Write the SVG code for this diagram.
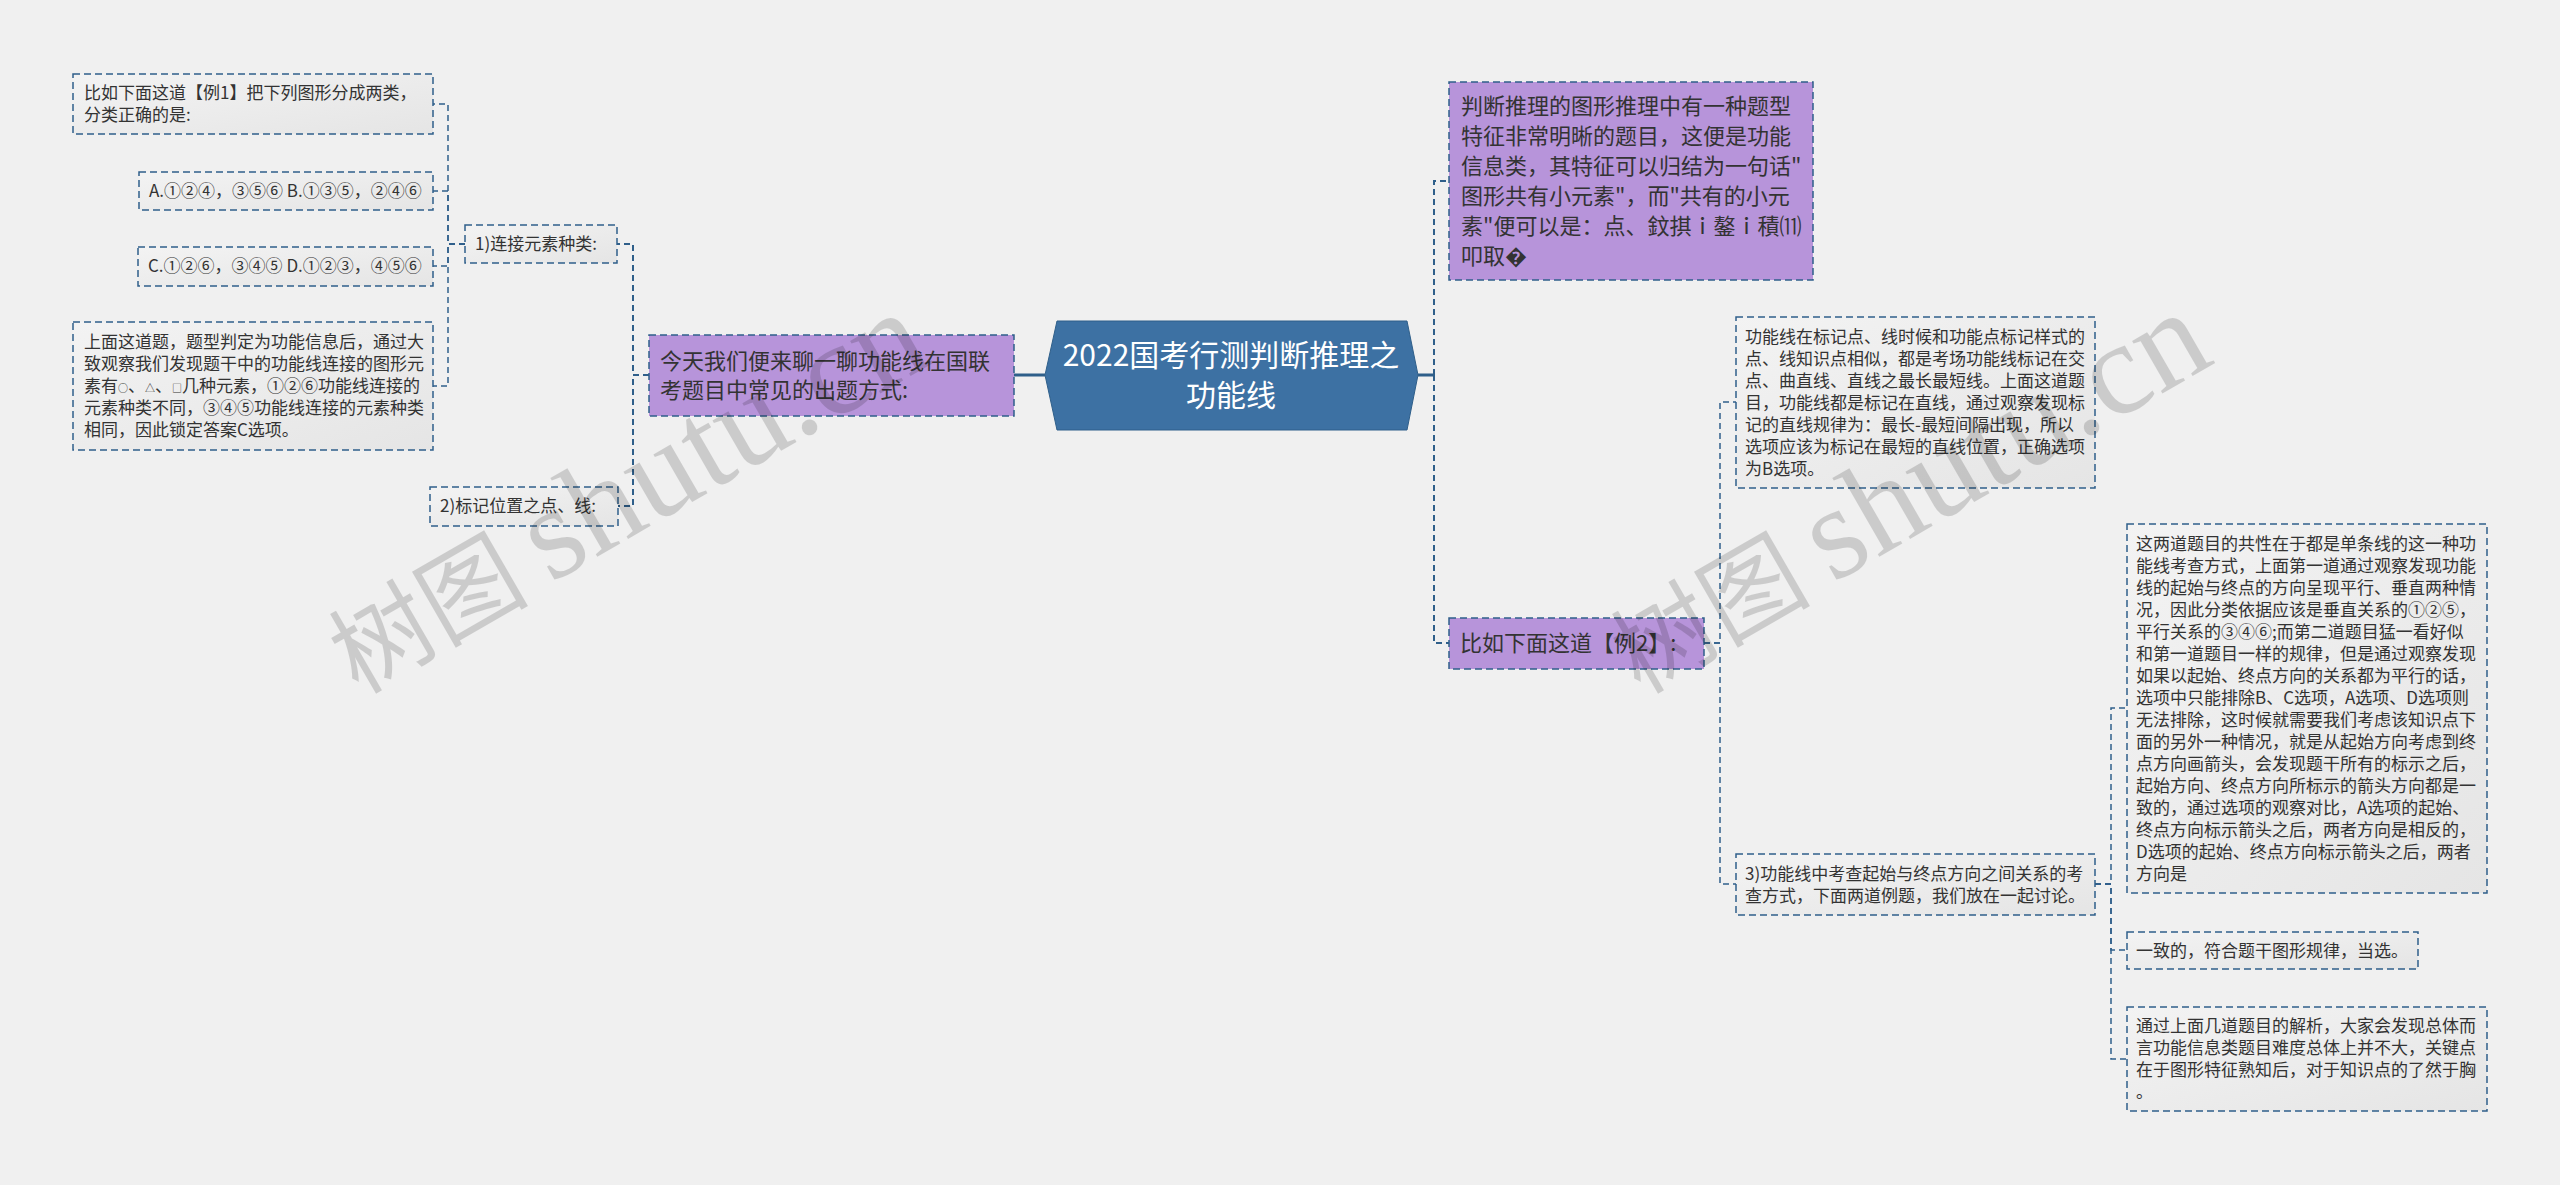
<svg xmlns="http://www.w3.org/2000/svg" width="2560" height="1185" viewBox="0 0 2560 1185">
<defs>
<linearGradient id="gbox" x1="0" y1="0" x2="1" y2="1">
<stop offset="0" stop-color="#f3f3f3"/>
<stop offset="1" stop-color="#e5e5e5"/>
</linearGradient>
<style>
.bg{fill:#f0f0f0}
.box{fill:url(#gbox);stroke:#2f5f8a;stroke-width:1.5;stroke-dasharray:7 4}
.pbox{fill:#b794da;stroke:#2f5f8a;stroke-width:1.5;stroke-dasharray:7 4}
.hex{fill:#3d71a3;stroke:#2f5f8a;stroke-width:1}
.t{font-family:"Noto Sans CJK SC","Noto Sans",sans-serif;fill:#333333}
.s{font-size:17px}
.m{font-size:22px}
.c{font-size:30px;fill:#ffffff;text-anchor:middle}
.cm{fill:none;stroke:#2f5f8a;stroke-width:2;stroke-dasharray:6 4}
.cs{fill:none;stroke:#2f5f8a;stroke-width:1.5;stroke-dasharray:6 4}
.cx{fill:none;stroke:#2f5f8a;stroke-width:3}
.wm{font-family:"Noto Sans CJK SC",serif;font-size:100px;fill:#000000;opacity:0.15}
.wl{font-family:"Liberation Serif",serif;font-size:132px}
</style>
</defs>
<rect class="bg" x="0" y="0" width="2560" height="1185"/>

<g id="connectors">
<path class="cx" d="M1045,375 H1014"/>
<path class="cx" d="M1418,375 H1434"/>
<path class="cm" d="M649,375 H633 V244 H617"/>
<path class="cm" d="M649,375 H633 V506 H618"/>
<path class="cs" d="M465,244 H448 V104 H433"/>
<path class="cs" d="M465,244 H448 V191 H433"/>
<path class="cs" d="M465,244 H448 V266 H433"/>
<path class="cs" d="M465,244 H448 V386 H433"/>
<path class="cm" d="M1434,375 V181 H1449"/>
<path class="cm" d="M1434,375 V643 H1449"/>
<path class="cs" d="M1704,643 H1720 V402 H1736"/>
<path class="cs" d="M1704,643 H1720 V884 H1736"/>
<path class="cs" d="M2095,884 H2111 V708 H2127"/>
<path class="cs" d="M2095,884 H2111 V950 H2127"/>
<path class="cs" d="M2095,884 H2111 V1059 H2127"/>
</g>

<g id="center">
<polygon class="hex" points="1045,375 1057,321 1407,321 1418,375 1407,430 1057,430"/>
<text class="t c" x="1231" y="366">2022国考行测判断推理之</text>
<text class="t c" x="1231" y="406">功能线</text>
</g>

<g id="left-main">
<rect class="pbox" x="649" y="335" width="365" height="81"/>
<text class="t m" x="660" y="369">今天我们便来聊一聊功能线在国联</text>
<text class="t m" x="660" y="398">考题目中常见的出题方式:</text>
</g>

<g id="l-1">
<rect class="box" x="465" y="225" width="152" height="38"/>
<text class="t s" x="475" y="250">1)连接元素种类:</text>
</g>

<g id="l-2">
<rect class="box" x="430" y="487" width="188" height="39"/>
<text class="t s" x="440" y="512">2)标记位置之点、线:</text>
</g>

<g id="l-1-a">
<rect class="box" x="73" y="74" width="360" height="60"/>
<text class="t s" x="84" y="99">比如下面这道【例1】把下列图形分成两类，</text>
<text class="t s" x="84" y="121">分类正确的是:</text>
</g>

<g id="l-1-b">
<rect class="box" x="139" y="172" width="294" height="38"/>
<text class="t s" x="149" y="197">A.①②④，③⑤⑥ B.①③⑤，②④⑥</text>
</g>

<g id="l-1-c">
<rect class="box" x="138" y="247" width="295" height="39"/>
<text class="t s" x="148" y="272">C.①②⑥，③④⑤ D.①②③，④⑤⑥</text>
</g>

<g id="l-1-d">
<rect class="box" x="73" y="322" width="360" height="128"/>
<text class="t s" x="84" y="348">上面这道题，题型判定为功能信息后，通过大</text>
<text class="t s" x="84" y="370">致观察我们发现题干中的功能线连接的图形元</text>
<text class="t s" x="84" y="392">素有<tspan font-size="10">○</tspan>、<tspan font-size="10">△</tspan>、<tspan font-size="10">□</tspan>几种元素，①②⑥功能线连接的</text>
<text class="t s" x="84" y="414">元素种类不同，③④⑤功能线连接的元素种类</text>
<text class="t s" x="84" y="436">相同，因此锁定答案C选项。</text>
</g>

<g id="r-1">
<rect class="pbox" x="1449" y="82" width="364" height="198"/>
<text class="t m" x="1461" y="114">判断推理的图形推理中有一种题型</text>
<text class="t m" x="1461" y="144">特征非常明晰的题目，这便是功能</text>
<text class="t m" x="1461" y="174">信息类，其特征可以归结为一句话"</text>
<text class="t m" x="1461" y="204">图形共有小元素"，而"共有的小元</text>
<text class="t m" x="1461" y="234">素"便可以是：点、鈫掑ｉ鏊ｉ積⑾</text>
<text class="t m" x="1461" y="264">叩取�</text>
</g>

<g id="r-2">
<rect class="pbox" x="1449" y="618" width="255" height="51"/>
<text class="t m" x="1460" y="651">比如下面这道【例2】:</text>
</g>

<g id="r-2-a">
<rect class="box" x="1736" y="317" width="359" height="171"/>
<text class="t s" x="1745" y="342.5">功能线在标记点、线时候和功能点标记样式的</text>
<text class="t s" x="1745" y="364.5">点、线知识点相似，都是考场功能线标记在交</text>
<text class="t s" x="1745" y="386.5">点、曲直线、直线之最长最短线。上面这道题</text>
<text class="t s" x="1745" y="408.5">目，功能线都是标记在直线，通过观察发现标</text>
<text class="t s" x="1745" y="430.5">记的直线规律为：最长-最短间隔出现，所以</text>
<text class="t s" x="1745" y="452.5">选项应该为标记在最短的直线位置，正确选项</text>
<text class="t s" x="1745" y="474.5">为B选项。</text>
</g>

<g id="r-2-b">
<rect class="box" x="1736" y="854" width="359" height="61"/>
<text class="t s" x="1745" y="879.5">3)功能线中考查起始与终点方向之间关系的考</text>
<text class="t s" x="1745" y="901.5">查方式，下面两道例题，我们放在一起讨论。</text>
</g>

<g id="r-3-a">
<rect class="box" x="2127" y="524" width="360" height="369"/>
<text class="t s" x="2136" y="549.5">这两道题目的共性在于都是单条线的这一种功</text>
<text class="t s" x="2136" y="571.5">能线考查方式，上面第一道通过观察发现功能</text>
<text class="t s" x="2136" y="593.5">线的起始与终点的方向呈现平行、垂直两种情</text>
<text class="t s" x="2136" y="615.5">况，因此分类依据应该是垂直关系的①②⑤，</text>
<text class="t s" x="2136" y="637.5">平行关系的③④⑥;而第二道题目猛一看好似</text>
<text class="t s" x="2136" y="659.5">和第一道题目一样的规律，但是通过观察发现</text>
<text class="t s" x="2136" y="681.5">如果以起始、终点方向的关系都为平行的话，</text>
<text class="t s" x="2136" y="703.5">选项中只能排除B、C选项，A选项、D选项则</text>
<text class="t s" x="2136" y="725.5">无法排除，这时候就需要我们考虑该知识点下</text>
<text class="t s" x="2136" y="747.5">面的另外一种情况，就是从起始方向考虑到终</text>
<text class="t s" x="2136" y="769.5">点方向画箭头，会发现题干所有的标示之后，</text>
<text class="t s" x="2136" y="791.5">起始方向、终点方向所标示的箭头方向都是一</text>
<text class="t s" x="2136" y="813.5">致的，通过选项的观察对比，A选项的起始、</text>
<text class="t s" x="2136" y="835.5">终点方向标示箭头之后，两者方向是相反的，</text>
<text class="t s" x="2136" y="857.5">D选项的起始、终点方向标示箭头之后，两者</text>
<text class="t s" x="2136" y="879.5">方向是</text>
</g>

<g id="r-3-b">
<rect class="box" x="2127" y="932" width="291" height="37"/>
<text class="t s" x="2136" y="956.5">一致的，符合题干图形规律，当选。</text>
</g>

<g id="r-3-c">
<rect class="box" x="2127" y="1007" width="360" height="104"/>
<text class="t s" x="2136" y="1032">通过上面几道题目的解析，大家会发现总体而</text>
<text class="t s" x="2136" y="1054">言功能信息类题目难度总体上并不大，关键点</text>
<text class="t s" x="2136" y="1076">在于图形特征熟知后，对于知识点的了然于胸</text>
<text class="t s" x="2136" y="1098">。</text>
</g>

<g id="watermarks">
<text class="wm" transform="translate(358,695) rotate(-30)">树图 <tspan class="wl">shutu.cn</tspan></text>
<text class="wm" transform="translate(1640,695) rotate(-30)">树图 <tspan class="wl">shutu.cn</tspan></text>
</g>
</svg>
